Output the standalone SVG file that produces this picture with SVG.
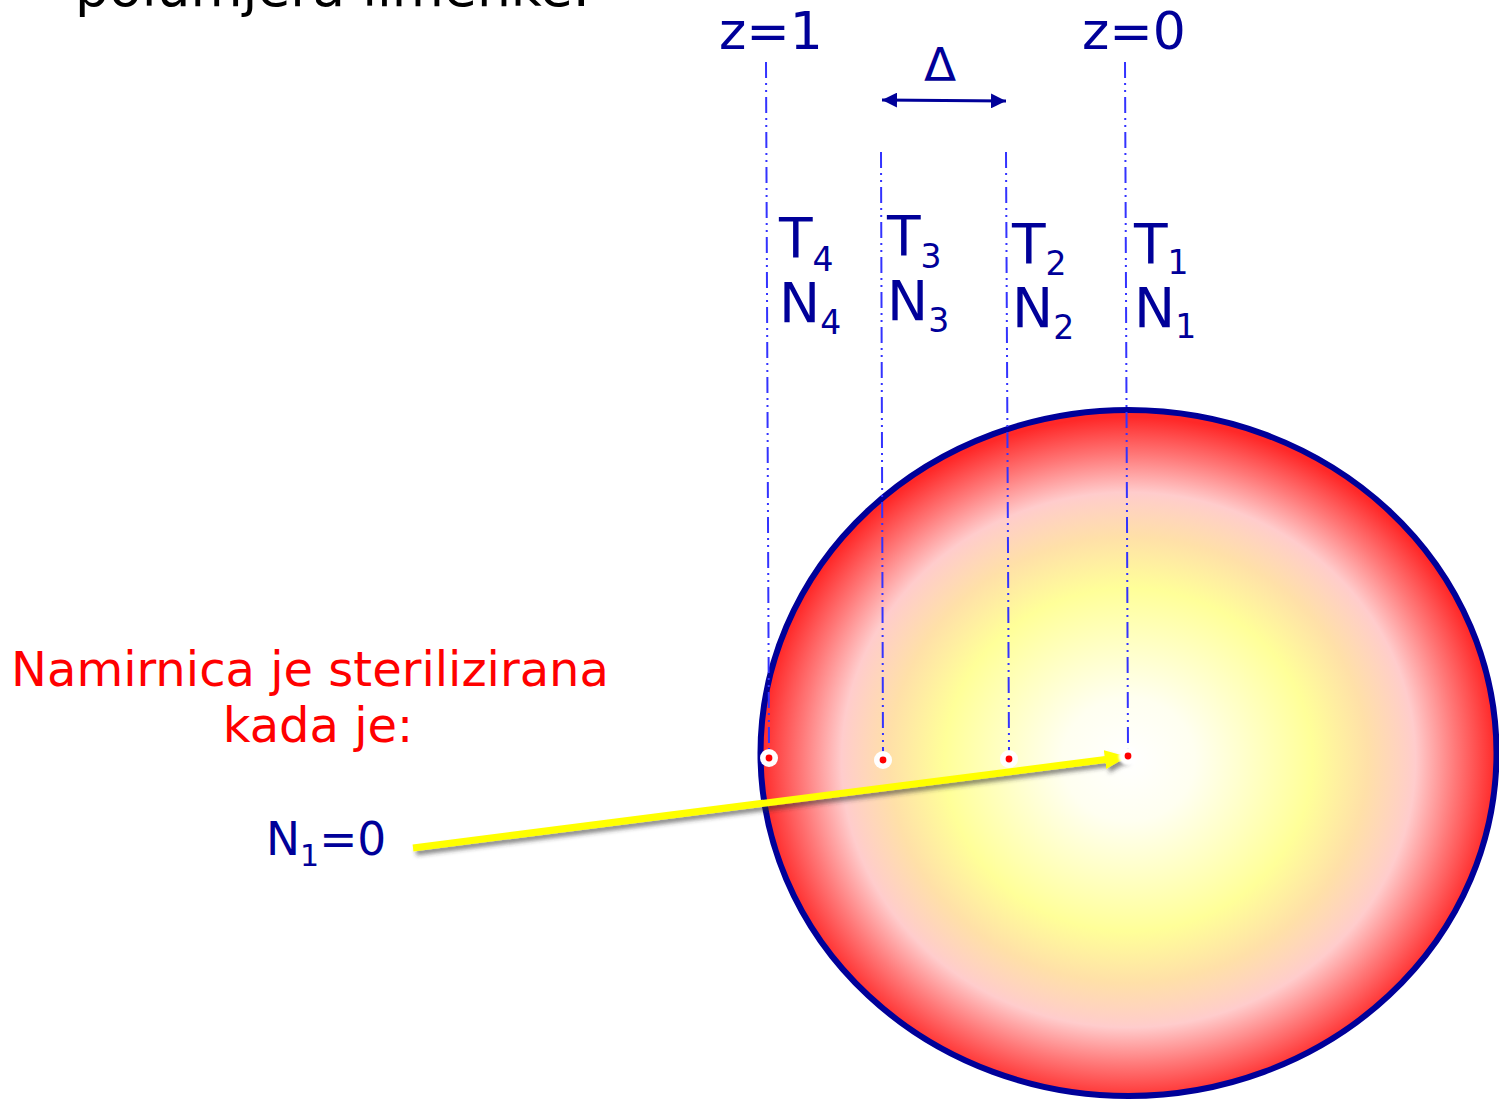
<svg xmlns="http://www.w3.org/2000/svg" width="1499" height="1099" viewBox="0 0 1499 1099">
<defs>
<radialGradient id="heat" cx="0.5" cy="0.51" r="0.5">
<stop offset="0" stop-color="#ffffff"/>
<stop offset="0.18" stop-color="#fffff0"/>
<stop offset="0.5" stop-color="#ffff99"/>
<stop offset="0.65" stop-color="#ffe0a8"/>
<stop offset="0.78" stop-color="#ffcccc"/>
<stop offset="0.89" stop-color="#ff7878"/>
<stop offset="1" stop-color="#ff2828"/>
</radialGradient>
<marker id="navyHead" viewBox="0 0 10 10" refX="10" refY="5" markerWidth="5" markerHeight="5" orient="auto-start-reverse" markerUnits="strokeWidth">
<path d="M0,0 L10,5 L0,10 z" fill="#000099"/>
</marker>
<marker id="yellowHead" viewBox="0 0 10 10" refX="9" refY="5" markerWidth="3.2" markerHeight="2.7" orient="auto" markerUnits="strokeWidth" preserveAspectRatio="none">
<path d="M0,0 L10,5 L0,10 z" fill="#ffff00"/>
</marker>
<filter id="shadow" x="-10%" y="-50%" width="120%" height="200%">
<feDropShadow dx="3" dy="4" stdDeviation="2" flood-color="#333333" flood-opacity="0.55"/>
</filter>
<filter id="glow" x="-50%" y="-50%" width="200%" height="200%">
<feGaussianBlur stdDeviation="1.2"/>
</filter>
</defs>
<style>
text { font-family: "DejaVu Sans", "Liberation Sans", sans-serif; }
.navy { fill: #000099; }
.lbl { font-size: 55px; fill: #000099; }
.sub { font-size: 33px; }
.guide { stroke: #3333ff; stroke-width: 2; stroke-dasharray: 16 5 2 5 2 5; fill: none; }
.dotw { fill: #ffffff; }
.dotr { fill: #ff0000; }
</style>

<g id="title-fragment">
<text x="75" y="6" font-size="53.5" fill="#000000">polumjera limenke.</text>
</g>

<g id="sphere">
<ellipse cx="1128.5" cy="753" rx="368" ry="343" fill="url(#heat)" stroke="#000099" stroke-width="6"/>
</g>

<g id="axis-labels">
<text x="719" y="49" font-size="52" class="navy">z=1</text>
<text x="1082" y="49" font-size="52" class="navy">z=0</text>
<text x="940" y="81" font-size="47" class="navy" text-anchor="middle">Δ</text>
</g>

<g id="connectors">
<line class="guide" x1="766" y1="62" x2="769" y2="750"/>
<line class="guide" x1="881" y1="152" x2="883" y2="752"/>
<line class="guide" x1="1006" y1="152" x2="1009" y2="751"/>
<line class="guide" x1="1125" y1="62" x2="1128" y2="749"/>
<line x1="882" y1="100" x2="1006" y2="101" stroke="#000099" stroke-width="3" marker-start="url(#navyHead)" marker-end="url(#navyHead)"/>
<line x1="413" y1="848" x2="1125" y2="757" stroke="#ffff00" stroke-width="7" marker-end="url(#yellowHead)" filter="url(#shadow)"/>
</g>

<g id="node-1">
<text x="1134" y="263" class="lbl">T<tspan class="sub" dy="11">1</tspan></text>
<text x="1134" y="327" class="lbl">N<tspan class="sub" dy="11">1</tspan></text>
<circle cx="1128" cy="756" r="9.5" class="dotw" filter="url(#glow)"/>
<circle cx="1128" cy="756" r="3.4" class="dotr"/>
</g>
<g id="node-2">
<text x="1012" y="263" class="lbl">T<tspan class="sub" dy="12">2</tspan></text>
<text x="1012" y="327" class="lbl">N<tspan class="sub" dy="12">2</tspan></text>
<circle cx="1009" cy="759" r="9" class="dotw"/>
<circle cx="1009" cy="759" r="3.4" class="dotr"/>
</g>
<g id="node-3">
<text x="887" y="255" class="lbl">T<tspan class="sub" dy="13">3</tspan></text>
<text x="887" y="320" class="lbl">N<tspan class="sub" dy="12">3</tspan></text>
<circle cx="883" cy="760" r="9" class="dotw"/>
<circle cx="883" cy="760" r="3.4" class="dotr"/>
</g>
<g id="node-4">
<text x="779" y="257" class="lbl">T<tspan class="sub" dy="14">4</tspan></text>
<text x="779" y="322" class="lbl">N<tspan class="sub" dy="12">4</tspan></text>
<circle cx="769" cy="758" r="9" class="dotw"/>
<circle cx="769" cy="758" r="3.4" class="dotr"/>
</g>

<g id="condition">
<text x="310" y="686" font-size="48" fill="#ff0000" text-anchor="middle">Namirnica je sterilizirana</text>
<text x="318" y="742" font-size="48" fill="#ff0000" text-anchor="middle">kada je:</text>
<text x="266" y="855" font-size="45.5" class="navy">N<tspan font-size="30" dy="11">1</tspan><tspan dy="-11">=0</tspan></text>
</g>
</svg>
